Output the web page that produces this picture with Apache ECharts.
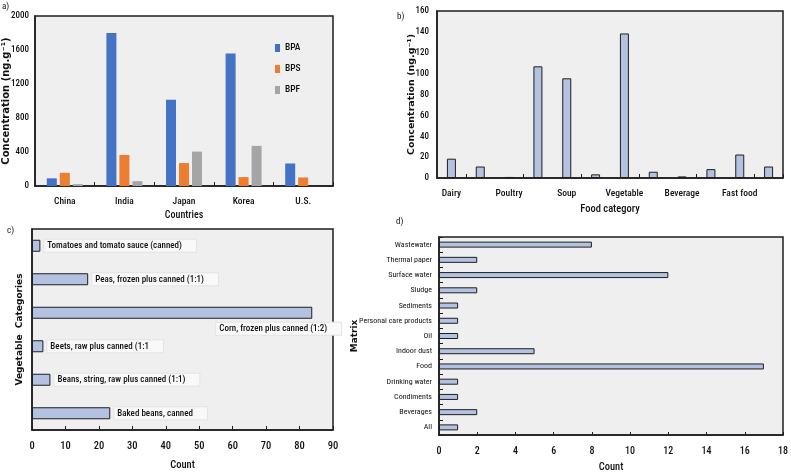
<!DOCTYPE html>
<html>
<head>
<meta charset="utf-8">
<script src="https://cdn.jsdelivr.net/npm/echarts@6/dist/echarts.min.js"></script>
<style>
html,body{margin:0;padding:0;background:#fff;}
#c{width:791px;height:474px;}
</style>
</head>
<body>
<div id="c"></div>
<script>
// ---- Panel a: bisphenols by country ----
const countries = ['China', 'India', 'Japan', 'Korea', 'U.S.'];
const bpaValues = [90, 1800, 1015, 1560, 265];
const bpsValues = [155, 365, 270, 105, 100];
const bpfValues = [22, 57, 405, 472, 0];
const concTicksA = [0, 400, 800, 1200, 1600, 2000];

// ---- Panel b: food categories ----
const foodCategories = ['Dairy', '', 'Poultry', '', 'Soup', '', 'Vegetable', '', 'Beverage', '', 'Fast food', ''];
const foodValues = [18.5, 11, 1, 107, 95.5, 3.5, 138.5, 6, 1.5, 8.5, 22.5, 11];

// ---- Panel c: vegetable categories ----
const vegCategories = ['Tomatoes and tomato sauce (canned)', 'Peas, frozen plus canned (1:1)', 'Corn, frozen plus canned (1:2)', 'Beets, raw plus canned (1:1', 'Beans, string, raw plus canned (1:1)', 'Baked beans, canned'];
const vegCounts = [2.5, 16.8, 83.8, 3.4, 5.5, 23.4];

// ---- Panel d: matrix ----
const matrixCategories = ['All', 'Beverages', 'Condiments', 'Drinking water', 'Food', 'Indoor dust', 'Oil', 'Personal care products', 'Sediments', 'Sludge', 'Surface water', 'Thermal paper', 'Wastewater'];
const matrixCounts = [1, 2, 1, 1, 17, 5, 1, 1, 1, 2, 12, 2, 8];

const NARROW = '"Roboto Condensed", "DejaVu Sans Condensed", sans-serif';
const BOLDWIDE = '"DejaVu Sans", Verdana, sans-serif';
const DARK = '#1e1e1e';
const TXT = '#111';
const PLOTBG = '#efefef';
const BARFILL = '#b4c2e2';

const gridBase = {show: true, backgroundColor: PLOTBG, borderColor: DARK, borderWidth: 1.5, containLabel: false};
const axisLineDark = {show: true, lineStyle: {color: DARK, width: 1.5}};
const lbl = (size, weight) => ({color: TXT, fontFamily: NARROW, fontSize: size, fontWeight: weight || 500});
const yName = (size) => ({fontFamily: BOLDWIDE, fontWeight: 'bold', fontSize: size, color: TXT});
const xName = {fontFamily: NARROW, fontSize: 10.5, color: TXT, fontWeight: 500};

const chart = echarts.init(document.getElementById('c'), null, {renderer: 'canvas'});

const option = {
  animation: false,
  backgroundColor: '#ffffff',
  textStyle: {fontFamily: NARROW},
  graphic: [
    {type: 'text', left: 2, top: 2, style: {text: 'a)', font: '9px ' + NARROW, fill: TXT}},
    {type: 'text', left: 397, top: 12, style: {text: 'b)', font: '9px ' + NARROW, fill: TXT}},
    {type: 'text', left: 7, top: 226, style: {text: 'c)', font: '9px ' + NARROW, fill: TXT}},
    {type: 'text', left: 396, top: 217, style: {text: 'd)', font: '9px ' + NARROW, fill: TXT}}
  ],
  legend: {
    data: ['BPA', 'BPS', 'BPF'],
    orient: 'vertical',
    left: 270, top: 38,
    itemGap: 11, itemWidth: 5, itemHeight: 8,
    textStyle: {fontFamily: NARROW, fontSize: 9.5, color: TXT, fontWeight: 500},
    icon: 'rect'
  },
  grid: [
    Object.assign({left: 34, top: 16, width: 299, height: 170}, gridBase),
    Object.assign({left: 437, top: 11, width: 346, height: 167}, gridBase),
    Object.assign({left: 32, top: 229, width: 301, height: 201}, gridBase),
    Object.assign({left: 439, top: 237, width: 346, height: 199}, gridBase)
  ],
  xAxis: [
    {
      gridIndex: 0, type: 'category', data: countries,
      axisLine: axisLineDark,
      axisTick: {show: true, inside: true, length: 4, lineStyle: {color: DARK}},
      axisLabel: Object.assign({margin: 11}, lbl(9.5)),
      name: 'Countries', nameLocation: 'middle', nameGap: 24, nameMoveOverlap: false,
      nameTextStyle: {fontFamily: NARROW, fontSize: 10, color: TXT, fontWeight: 500}
    },
    {
      gridIndex: 1, type: 'category', data: foodCategories,
      axisLine: axisLineDark,
      axisTick: {show: true, inside: true, length: 4, interval: (i) => i % 2 === 1, lineStyle: {color: DARK}},
      axisLabel: Object.assign({margin: 11, interval: 1}, lbl(9.5)),
      name: 'Food category', nameLocation: 'middle', nameGap: 26, nameMoveOverlap: false,
      nameTextStyle: xName
    },
    {
      gridIndex: 2, type: 'value', min: 0, max: 90, interval: 10,
      axisLine: axisLineDark,
      axisTick: {show: true, inside: true, length: 4, lineStyle: {color: DARK}},
      splitLine: {show: false},
      axisLabel: Object.assign({margin: 11}, lbl(10.5)),
      name: 'Count', nameLocation: 'middle', nameGap: 30, nameMoveOverlap: false,
      nameTextStyle: xName
    },
    {
      gridIndex: 3, type: 'value', min: 0, max: 18, interval: 2,
      axisLine: axisLineDark,
      axisTick: {show: true, inside: true, length: 3, lineStyle: {color: DARK}},
      splitLine: {show: false},
      axisLabel: Object.assign({margin: 11}, lbl(10)),
      name: 'Count', nameLocation: 'middle', nameGap: 27, nameMoveOverlap: false,
      nameTextStyle: xName
    }
  ],
  yAxis: [
    {
      gridIndex: 0, type: 'value', min: concTicksA[0], max: concTicksA[concTicksA.length - 1], interval: 400,
      axisLine: axisLineDark, axisTick: {show: false}, splitLine: {show: false},
      axisLabel: Object.assign({margin: 6, formatter: (v) => String(v)}, lbl(9)),
      name: 'Concentration (ng.g\u207B\u00B9)', nameLocation: 'middle', nameGap: 24, nameMoveOverlap: false,
      nameTextStyle: yName(10)
    },
    {
      gridIndex: 1, type: 'value', min: 0, max: 160, interval: 20,
      axisLine: axisLineDark, axisTick: {show: false}, splitLine: {show: false},
      axisLabel: Object.assign({margin: 8}, lbl(9)),
      name: 'Concentration (ng.g\u207B\u00B9)', nameLocation: 'middle', nameGap: 20, nameMoveOverlap: false,
      nameTextStyle: yName(9.5)
    },
    {
      gridIndex: 2, type: 'category', data: vegCategories, inverse: true,
      axisLine: axisLineDark, axisTick: {show: false},
      axisLabel: {show: false},
      name: 'Vegetable  Categories', nameLocation: 'middle', nameGap: 8, nameMoveOverlap: false,
      nameTextStyle: yName(9)
    },
    {
      gridIndex: 3, type: 'category', data: matrixCategories,
      axisLine: axisLineDark,
      axisTick: {show: true, inside: true, length: 4, lineStyle: {color: DARK}},
      axisLabel: Object.assign({margin: 7}, lbl(8, 'normal')),
      name: 'Matrix', nameLocation: 'middle', nameGap: 80, nameMoveOverlap: false,
      nameTextStyle: yName(9)
    }
  ],
  series: [
    {name: 'BPA', type: 'bar', xAxisIndex: 0, yAxisIndex: 0, data: bpaValues, barWidth: 10, barGap: '30%', itemStyle: {color: '#4472c4'}},
    {name: 'BPS', type: 'bar', xAxisIndex: 0, yAxisIndex: 0, data: bpsValues, barWidth: 10, barGap: '30%', itemStyle: {color: '#ed7d31'}},
    {name: 'BPF', type: 'bar', xAxisIndex: 0, yAxisIndex: 0, data: bpfValues, barWidth: 10, barGap: '30%', itemStyle: {color: '#a5a5a5'}},
    {
      name: 'Food', type: 'bar', xAxisIndex: 1, yAxisIndex: 1, data: foodValues, barWidth: 9,
      itemStyle: {color: BARFILL, borderColor: DARK, borderWidth: 1}
    },
    {
      name: 'Vegetable', type: 'bar', xAxisIndex: 2, yAxisIndex: 2, barWidth: 12,
      data: vegCounts.map((v) => v > 60 ? {value: v, label: {offset: [-100, 16]}} : v),
      itemStyle: {color: BARFILL, borderColor: DARK, borderWidth: 1},
      label: {
        show: true, position: 'right', distance: 4, formatter: '{b}',
        fontFamily: NARROW, fontSize: 9, color: TXT, fontWeight: 500,
        backgroundColor: '#f9f9f9', borderColor: '#e4e4e4', borderWidth: 1,
        padding: [2, 14, 1, 3]
      }
    },
    {
      name: 'Matrix', type: 'bar', xAxisIndex: 3, yAxisIndex: 3, data: matrixCounts, barWidth: 6,
      itemStyle: {color: BARFILL, borderColor: DARK, borderWidth: 1}
    }
  ]
};
chart.setOption(option);
</script>
</body>
</html>
